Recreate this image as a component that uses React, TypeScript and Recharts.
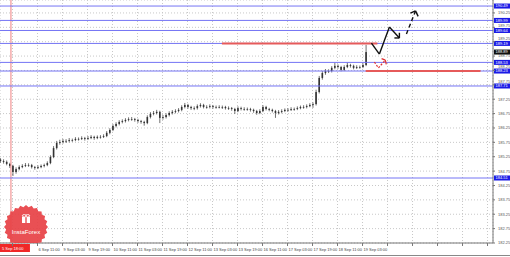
import { ComposedChart, Bar, XAxis, YAxis, CartesianGrid, ReferenceLine } from 'recharts';

// hour index of each 2-hour candle (0 = 5 Sep 11:00)
const hours = [
  0, 2, 4, 6, 8, 10, 12, 14, 16, 18, 20, 22, 24, 26, 28, 30, 32, 34, 36, 38,
  40, 42, 44, 46, 48, 50, 52, 54, 56, 58, 60, 62, 64, 66, 68, 70, 72, 74, 76, 78,
  80, 82, 84, 86, 88, 90, 92, 94, 96, 98, 100, 102, 104, 106, 108, 110, 112, 114, 116, 118,
  120, 122, 124, 126, 128, 130, 132, 134, 136, 138, 140, 142, 144, 146, 148, 150, 152, 154, 156, 158,
  160, 162, 164, 166, 168, 170, 172, 174, 176, 178, 180, 182, 184, 186, 188, 190, 192, 194, 196, 198,
  200, 202, 204, 206, 208, 210, 212, 214, 216, 218, 220, 222, 224, 226, 228, 230, 232, 234,
];

const opens = [
  185.15, 185.10, 185.07, 185.00, 184.93, 184.72, 184.82, 184.89, 184.93, 184.96,
  184.96, 184.89, 184.86, 184.89, 184.93, 184.96, 185.03, 185.24, 185.55, 185.73,
  185.76, 185.80, 185.80, 185.83, 185.83, 185.87, 185.87, 185.90, 185.87, 185.90,
  185.94, 185.90, 185.94, 185.94, 185.97, 186.08, 186.18, 186.32, 186.39, 186.46,
  186.49, 186.53, 186.56, 186.56, 186.53, 186.49, 186.46, 186.42, 186.63, 186.74,
  186.77, 186.81, 186.60, 186.63, 186.70, 186.77, 186.81, 186.84, 186.88, 186.98,
  187.05, 186.98, 186.94, 186.94, 187.01, 187.05, 186.98, 186.98, 187.01, 186.98,
  186.98, 186.98, 186.98, 186.94, 186.94, 186.91, 186.84, 186.94, 186.91, 186.91,
  186.91, 186.88, 186.84, 186.77, 186.84, 186.98, 186.91, 186.88, 186.84, 186.77,
  186.81, 186.84, 186.88, 186.88, 186.91, 186.91, 186.94, 186.98, 186.98, 187.01,
  187.05, 187.08, 187.50, 187.99, 188.16, 188.23, 188.23, 188.34, 188.41, 188.37,
  188.27, 188.37, 188.44, 188.41, 188.34, 188.37, 188.37, 188.44,
];

const highs = [
  185.20, 185.16, 185.12, 185.04, 184.97, 184.88, 184.95, 184.99, 185.03, 185.02,
  185.00, 184.93, 184.95, 184.98, 185.01, 185.09, 185.30, 185.62, 185.80, 185.84,
  185.87, 185.86, 185.90, 185.88, 185.93, 185.92, 185.96, 185.94, 185.97, 186.00,
  185.98, 185.99, 186.00, 186.03, 186.14, 186.24, 186.38, 186.45, 186.52, 186.55,
  186.59, 186.62, 186.63, 186.60, 186.57, 186.53, 186.50, 186.69, 186.80, 186.84,
  186.88, 186.85, 186.70, 186.76, 186.83, 186.87, 186.90, 186.94, 187.04, 187.12,
  187.09, 187.02, 187.00, 187.07, 187.11, 187.09, 187.04, 187.07, 187.05, 187.03,
  187.04, 187.03, 187.02, 187.00, 186.98, 186.95, 187.00, 186.99, 186.97, 186.96,
  186.95, 186.92, 186.88, 186.90, 187.04, 187.02, 186.95, 186.92, 186.88, 186.87,
  186.90, 186.93, 186.94, 186.97, 186.96, 187.00, 187.03, 187.04, 187.07, 187.11,
  187.14, 187.58, 188.06, 188.23, 188.30, 188.29, 188.40, 188.52, 188.46, 188.41,
  188.43, 188.53, 188.48, 188.45, 188.43, 188.42, 188.50, 189.14,
];

const lows = [
  185.04, 185.01, 184.95, 184.86, 184.58, 184.66, 184.78, 184.85, 184.89, 184.90,
  184.84, 184.80, 184.82, 184.85, 184.88, 184.92, 184.99, 185.20, 185.50, 185.67,
  185.71, 185.73, 185.75, 185.77, 185.79, 185.81, 185.83, 185.81, 185.83, 185.86,
  185.84, 185.86, 185.88, 185.90, 185.93, 186.03, 186.14, 186.27, 186.34, 186.41,
  186.44, 186.48, 186.50, 186.47, 186.43, 186.40, 186.33, 186.38, 186.58, 186.69,
  186.72, 186.42, 186.54, 186.58, 186.65, 186.72, 186.76, 186.79, 186.83, 186.93,
  186.92, 186.88, 186.87, 186.89, 186.96, 186.93, 186.92, 186.93, 186.92, 186.92,
  186.93, 186.91, 186.89, 186.88, 186.85, 186.74, 186.80, 186.86, 186.85, 186.85,
  186.82, 186.78, 186.71, 186.73, 186.80, 186.86, 186.83, 186.79, 186.60, 186.72,
  186.76, 186.80, 186.82, 186.84, 186.85, 186.87, 186.90, 186.92, 186.93, 186.97,
  186.95, 187.03, 187.45, 187.93, 188.10, 188.16, 188.18, 188.29, 188.31, 188.22,
  188.23, 188.33, 188.35, 188.29, 188.30, 188.31, 188.33, 188.40,
];

const closes = [
  185.10, 185.07, 185.00, 184.93, 184.72, 184.82, 184.89, 184.93, 184.96, 184.96,
  184.89, 184.86, 184.89, 184.93, 184.96, 185.03, 185.24, 185.55, 185.73, 185.76,
  185.80, 185.80, 185.83, 185.83, 185.87, 185.87, 185.90, 185.87, 185.90, 185.94,
  185.90, 185.94, 185.94, 185.97, 186.08, 186.18, 186.32, 186.39, 186.46, 186.49,
  186.53, 186.56, 186.56, 186.53, 186.49, 186.46, 186.42, 186.63, 186.74, 186.77,
  186.81, 186.60, 186.63, 186.70, 186.77, 186.81, 186.84, 186.88, 186.98, 187.05,
  186.98, 186.94, 186.94, 187.01, 187.05, 186.98, 186.98, 187.01, 186.98, 186.98,
  186.98, 186.98, 186.94, 186.94, 186.91, 186.84, 186.94, 186.91, 186.91, 186.91,
  186.88, 186.84, 186.77, 186.84, 186.98, 186.91, 186.88, 186.84, 186.77, 186.81,
  186.84, 186.88, 186.88, 186.91, 186.91, 186.94, 186.98, 186.98, 187.01, 187.05,
  187.08, 187.50, 187.99, 188.16, 188.23, 188.23, 188.34, 188.41, 188.37, 188.27,
  188.37, 188.44, 188.41, 188.34, 188.37, 188.37, 188.44, 188.89,
];

const priceTicks = [
  182.25, 182.75, 183.25, 183.75, 184.25, 184.75, 185.25, 185.75, 186.25,
  186.75, 187.25, 187.75, 188.25, 188.75, 189.25, 189.75, 190.25,
];
const priceDomain = [182.25, 190.7];

const timeTicks = [8, 24, 40, 56, 72, 88, 104, 120, 136, 152, 168, 184, 200, 216, 232, 248, 264, 280, 296, 312];
const timeLabels = [
  '', '6 Sep 11:00', '9 Sep 03:00', '9 Sep 19:00', '10 Sep 11:00', '11 Sep 03:00', '11 Sep 19:00',
  '12 Sep 11:00', '13 Sep 03:00', '13 Sep 19:00', '16 Sep 11:00', '17 Sep 03:00', '17 Sep 19:00',
  '18 Sep 11:00', '19 Sep 03:00',
];

const levels = [190.49, 189.99, 189.64, 189.19, 188.53, 188.23, 187.71, 184.51];
const lastPrice = 188.89;
const separatorHour = 7;
const separatorLabel = '5 Sep 18:00';

// red resistance / support segments: [fromHour, toHour, price]
const redLevels = [
  [142, 241.5, 189.19],
  [234, 307.5, 188.23],
];

// forecast arrows as [hour, price] polylines
const solidPath = [[237.7, 189.2], [242.8, 188.82], [249.2, 189.76], [255.6, 189.38]];
const solidHead = [[252.4, 189.38], [255.6, 189.38], [255.6, 189.56]];
const dashPath = [[260.1, 189.52], [265.9, 190.32]];
const dashHead = [[262.6, 190.24], [265.9, 190.32], [267.6, 190.13]];
const redPath = [[239.6, 188.54], [242.2, 188.34], [246.6, 188.61]];
const redHead = [[244.2, 188.66], [246.6, 188.61], [247.2, 188.46]];

const data = hours.map((h, i) => ({
  h,
  range: [lows[i], highs[i]],
  open: opens[i],
  close: closes[i],
  high: highs[i],
  low: lows[i],
}));

const FONT = '"Liberation Sans", Arial, sans-serif';
const PLOT_H = 243;
const PX_PER_UNIT = PLOT_H / (priceDomain[1] - priceDomain[0]);

function Candle(props: any) {
  const { x, y, width, height, payload } = props;
  const top = Math.min(y, y + height);
  const bot = Math.max(y, y + height);
  const span = payload.high - payload.low || 1;
  const py = (p: number) => top + ((payload.high - p) / span) * (bot - top);
  const cx = x + width / 2;
  const yo = py(payload.open);
  const yc = py(payload.close);
  const bt = Math.min(yo, yc);
  const bh = Math.max(Math.abs(yo - yc), 0.7);
  return (
    <g>
      <line x1={cx} x2={cx} y1={top} y2={bot} stroke="#333" strokeWidth={0.7} />
      <rect x={cx - 0.8} y={bt} width={1.6} height={bh} fill="#333" />
    </g>
  );
}

function PriceTag(props: any) {
  const { viewBox, text, bg } = props;
  if (!viewBox) return null;
  const x0 = viewBox.x + viewBox.width + 1;
  return (
    <g>
      <rect x={x0} y={viewBox.y - 2.5} width={16} height={5} fill={bg} />
      <text x={x0 + 1.5} y={viewBox.y + 1.4} fontSize={4} fill="#fff" fontFamily={FONT}>
        {text}
      </text>
    </g>
  );
}

function DateTag(props: any) {
  const { viewBox } = props;
  if (!viewBox) return null;
  const x0 = viewBox.x - 11;
  const y0 = viewBox.y + viewBox.height + 1;
  return (
    <g>
      <rect x={x0} y={y0} width={30} height={8} fill="#f02828" />
      <text x={x0 + 2} y={y0 + 5.5} fontSize={4} fill="#fff" fontFamily={FONT}>
        {separatorLabel}
      </text>
    </g>
  );
}

function TimeTick(props: any) {
  const { x, y, index } = props;
  const label = timeLabels[index] || '';
  if (!label) return null;
  return (
    <text x={x + 1} y={y + 3} fontSize={4} fill="#444" fontFamily={FONT}>
      {label}
    </text>
  );
}

function PriceTick(props: any) {
  const { x, y, payload } = props;
  const v: number = payload.value;
  // a grid label that sits under a level tag is lifted just above it, as the terminal does
  const near = levels.concat([lastPrice]).find((l) => Math.abs(l - v) < 0.16 && v >= l);
  let ty = y + 1.4;
  if (near !== undefined) {
    const tagY = y + (v - near) * PX_PER_UNIT;
    ty = tagY - 3;
  }
  return (
    <text x={x + 1} y={ty} fontSize={4} fill="#555" fontFamily={FONT}>
      {v.toFixed(2)}
    </text>
  );
}

function segments(points: number[][]) {
  const out: any[] = [];
  for (let i = 0; i < points.length - 1; i++) {
    out.push([
      { x: points[i][0], y: points[i][1] },
      { x: points[i + 1][0], y: points[i + 1][1] },
    ]);
  }
  return out;
}

function Seal() {
  const cx = 26;
  const cy = 227;
  const pts: string[] = [];
  for (let i = 0; i < 48; i++) {
    const a = (i / 48) * Math.PI * 2;
    const r = i % 2 === 0 ? 22 : 20;
    pts.push(`${cx + r * Math.cos(a)},${cy + r * Math.sin(a)}`);
  }
  return (
    <svg width={510} height={257} style={{ position: 'absolute', left: 0, top: 0, pointerEvents: 'none' }}>
      <defs>
        <clipPath id="sealClip">
          <rect x={0} y={0} width={493} height={243} />
        </clipPath>
      </defs>
      <g clipPath="url(#sealClip)" opacity={0.92}>
        <polygon points={pts.join(' ')} fill="#e84246" />
        <rect x={22} y={217} width={8} height={6} fill="#fff" />
        <rect x={25.3} y={217} width={1.4} height={6} fill="#e84246" />
        <ellipse cx={24.3} cy={215.8} rx={2} ry={1.2} fill="none" stroke="#fff" strokeWidth={0.9} />
        <ellipse cx={27.7} cy={215.8} rx={2} ry={1.2} fill="none" stroke="#fff" strokeWidth={0.9} />
        <text x={cx} y={234} fontSize={6} fill="#fff" textAnchor="middle" fontFamily={FONT}>
          InstaForex
        </text>
      </g>
      <line x1={0} x2={510} y1={255.5} y2={255.5} stroke="#888" strokeWidth={1} />
    </svg>
  );
}

export default function App() {
  return (
    <div style={{ position: 'absolute', left: 0, top: 0, width: 510, height: 257, background: '#fff' }}>
      <ComposedChart width={510} height={257} data={data} margin={{ top: 0, right: 0, left: 0, bottom: 0 }}>
        <CartesianGrid stroke="#c8c8c8" strokeDasharray="1 2" />
        <XAxis
          dataKey="h"
          type="number"
          domain={[0, 315.5]}
          ticks={timeTicks}
          allowDataOverflow
          height={14}
          tickSize={3}
          tick={<TimeTick />}
          stroke="#777"
          interval={0}
        />
        <YAxis
          orientation="right"
          type="number"
          domain={priceDomain}
          ticks={priceTicks}
          allowDataOverflow
          width={17}
          tickSize={2}
          tick={<PriceTick />}
          stroke="#777"
          interval={0}
        />
        <ReferenceLine x={separatorHour} stroke="#f08080" strokeWidth={1} label={<DateTag />} />
        {levels.map((v) => (
          <ReferenceLine
            key={v}
            y={v}
            stroke="#7474f4"
            strokeWidth={1}
            label={<PriceTag text={v.toFixed(2)} bg="#1a1ae6" />}
          />
        ))}
        <ReferenceLine y={lastPrice} stroke="none" label={<PriceTag text={lastPrice.toFixed(2)} bg="#111" />} />
        {redLevels.map(([a, b, p]) => (
          <ReferenceLine
            key={`r${a}`}
            segment={[{ x: a, y: p }, { x: b, y: p }]}
            stroke="#e65a5a"
            strokeWidth={2}
          />
        ))}
        <Bar dataKey="range" barSize={2} shape={<Candle />} isAnimationActive={false} />
        {segments(solidPath).concat(segments(solidHead)).map((s, i) => (
          <ReferenceLine key={`s${i}`} segment={s} stroke="#111" strokeWidth={1.4} />
        ))}
        {segments(dashPath).map((s, i) => (
          <ReferenceLine key={`d${i}`} segment={s} stroke="#111" strokeWidth={1.4} strokeDasharray="4 3" />
        ))}
        {segments(dashHead).map((s, i) => (
          <ReferenceLine key={`dh${i}`} segment={s} stroke="#111" strokeWidth={1.4} />
        ))}
        {segments(redPath).map((s, i) => (
          <ReferenceLine key={`rp${i}`} segment={s} stroke="#e03030" strokeWidth={1.2} strokeDasharray="2 1.5" />
        ))}
        {segments(redHead).map((s, i) => (
          <ReferenceLine key={`rh${i}`} segment={s} stroke="#e03030" strokeWidth={1.2} />
        ))}
      </ComposedChart>
      <Seal />
    </div>
  );
}
